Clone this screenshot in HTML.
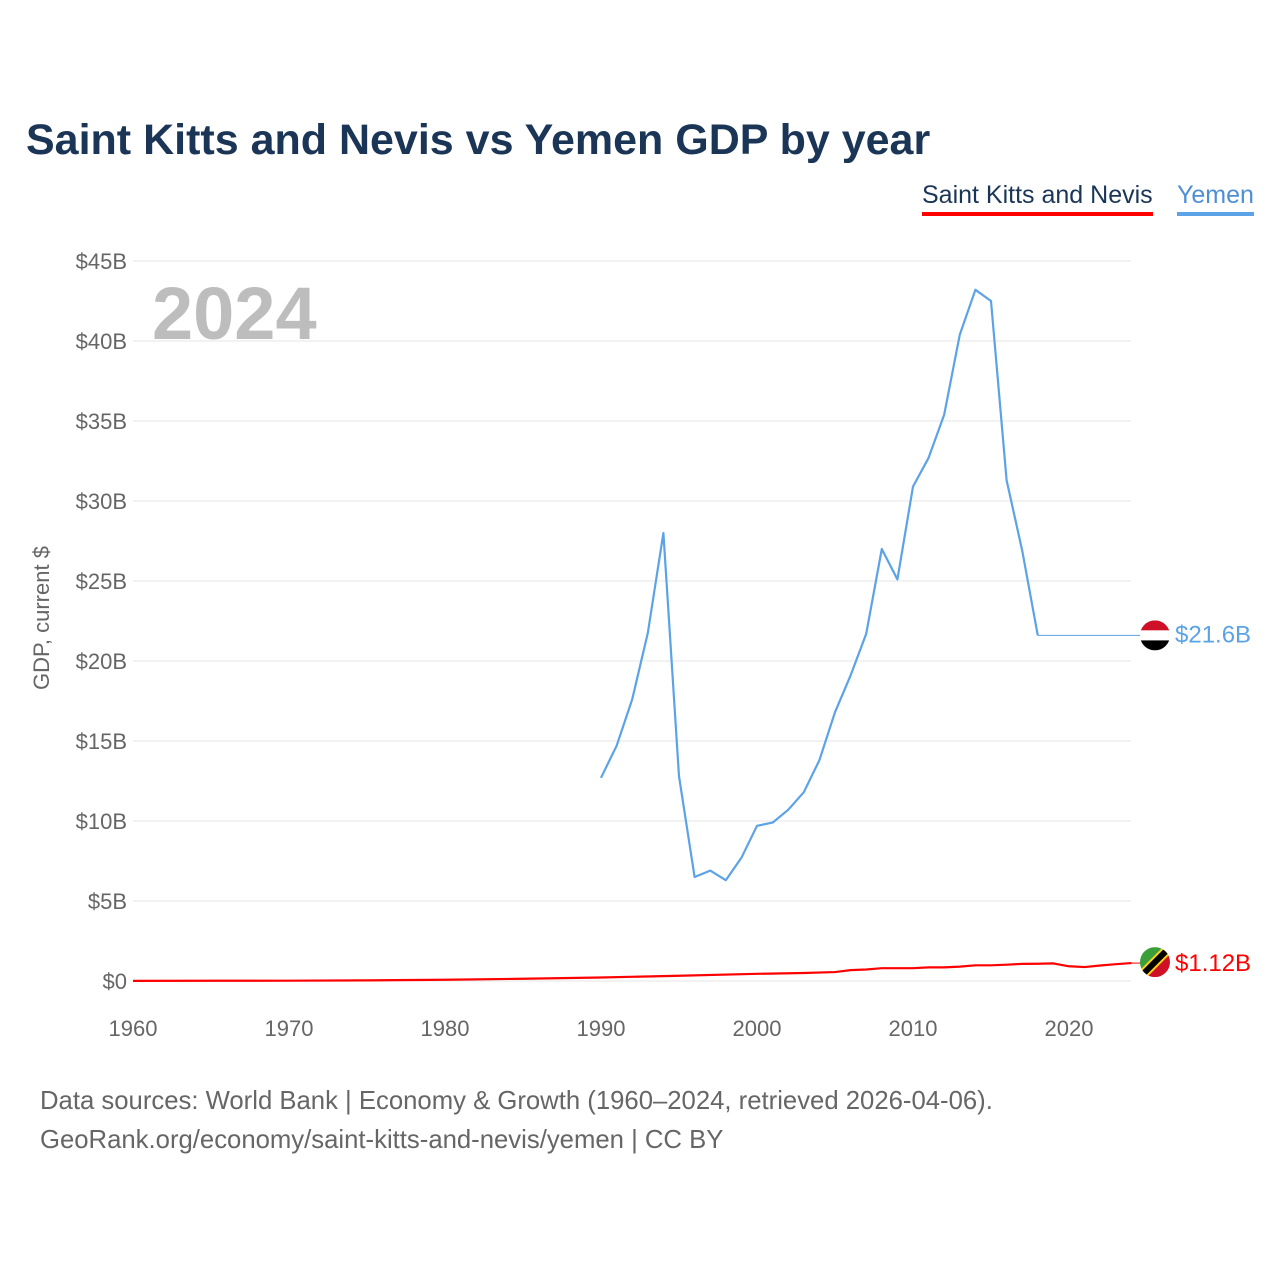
<!DOCTYPE html>
<html><head><meta charset="utf-8">
<style>
body{margin:0;background:#fff;font-family:"Liberation Sans",sans-serif;}
#wrap{position:relative;width:1280px;height:1280px;overflow:hidden;}
.t{position:absolute;white-space:nowrap;}
</style></head>
<body>
<div id="wrap">
<div class="t" style="left:26px;top:116px;font-size:43px;font-weight:bold;color:#1b3556;">Saint Kitts and Nevis vs Yemen GDP by year</div>
<div class="t" style="left:922px;top:181px;font-size:25px;color:#1b3556;border-bottom:4px solid #f00;padding-bottom:2px;">Saint Kitts and Nevis</div>
<div class="t" style="left:1177px;top:181px;font-size:25px;color:#4d8fd6;border-bottom:4px solid #5ba3e6;padding-bottom:2px;">Yemen</div>
<div class="t" style="left:42px;top:618px;font-size:22px;color:#666;transform:translate(-50%,-50%) rotate(-90deg);">GDP, current $</div>
<div class="t" style="left:40px;top:1082px;font-size:25.7px;color:#666;line-height:39px;">Data sources: World Bank | Economy &amp; Growth (1960–2024, retrieved 2026-04-06).<br>GeoRank.org/economy/saint-kitts-and-nevis/yemen | CC BY</div>
<svg id="chart" width="1280" height="1280" style="position:absolute;left:0;top:0;"></svg>
</div>
<script>
const yTicks=[0,5,10,15,20,25,30,35,40,45];
const xTicks=[1960,1970,1980,1990,2000,2010,2020];
const yemenYears=[1990,1991,1992,1993,1994,1995,1996,1997,1998,1999,2000,2001,2002,2003,2004,2005,2006,2007,2008,2009,2010,2011,2012,2013,2014,2015,2016,2017,2018];
const yemenVals=[12.7,14.7,17.6,21.75,28.0,12.8,6.5,6.9,6.3,7.7,9.7,9.9,10.7,11.8,13.8,16.8,19.1,21.7,27.0,25.1,30.9,32.7,35.4,40.4,43.2,42.5,31.3,26.9,21.6];
const sknYears=[1960,1965,1970,1975,1980,1985,1990,1995,2000,2003,2005,2006,2007,2008,2010,2011,2012,2013,2014,2015,2016,2017,2018,2019,2020,2021,2022,2023,2024];
const sknVals=[0.01,0.015,0.02,0.04,0.08,0.14,0.22,0.33,0.45,0.5,0.56,0.68,0.72,0.8,0.8,0.85,0.85,0.9,0.98,0.98,1.02,1.07,1.08,1.1,0.92,0.87,0.97,1.05,1.12];
const yemenLast=21.6, sknLast=1.12;
const X=y=>133+(y-1960)*15.6;
const Y=v=>981-v*16;
const svg=document.getElementById('chart');
const NS='http://www.w3.org/2000/svg';
function mk(tag,attrs,parent){const e=document.createElementNS(NS,tag);for(const k in attrs)e.setAttribute(k,attrs[k]);(parent||svg).appendChild(e);return e;}
yTicks.forEach(t=>{
  const l=mk('line',{x1:133,x2:1131,y1:Y(t),y2:Y(t),stroke:'#e6e6e6','stroke-width':1});
  
  
  const tx=mk('text',{x:127,y:Y(t)+8,'text-anchor':'end','font-size':22,fill:'#666','font-family':'Liberation Sans'});
  tx.textContent='$'+t+(t?'B':'');
  
  
});
xTicks.forEach(t=>{
  const tx=mk('text',{x:X(t),y:1036,'text-anchor':'middle','font-size':22,fill:'#666','font-family':'Liberation Sans'});
  tx.textContent=t;
  
  
});
const yr=mk('text',{x:152,y:339,'font-size':74,'font-weight':'bold',fill:'#bdbdbd','font-family':'Liberation Sans'});
yr.textContent='2024';


function pts(xs,vs){return xs.map((x,i)=>X(x)+','+Y(vs[i])).join(' ');}
const ye=mk('polyline',{points:pts(yemenYears,yemenVals),fill:'none',stroke:'#5ba3e6','stroke-width':2.2,'stroke-linejoin':'round'});


const yc=mk('line',{x1:X(yemenYears[yemenYears.length-1]),x2:1141,y1:Y(yemenLast),y2:Y(yemenLast),stroke:'#5ba3e6','stroke-width':1});


const sk=mk('polyline',{points:pts(sknYears,sknVals),fill:'none',stroke:'#f00','stroke-width':2.2,'stroke-linejoin':'round'});


const fy=Y(yemenLast), fx=1155;
const g1=mk('g',{});


const cp1=mk('clipPath',{id:'c1'},g1);mk('circle',{cx:fx,cy:fy,r:15},cp1);
mk('rect',{x:fx-15,y:fy-15,width:30,height:10,fill:'#ce1126','clip-path':'url(#c1)'},g1);
mk('rect',{x:fx-15,y:fy-5,width:30,height:10,fill:'#fff','clip-path':'url(#c1)'},g1);
mk('rect',{x:fx-15,y:fy+5,width:30,height:10,fill:'#000','clip-path':'url(#c1)'},g1);
const yl=mk('text',{x:1175,y:fy+7,'font-size':24,fill:'#5ba3e6','font-family':'Liberation Sans'});
yl.textContent='$21.6B';


const sy=Y(sknLast)-1;
mk('line',{x1:1131,x2:1141,y1:Y(sknLast),y2:Y(sknLast),stroke:'#f00','stroke-width':1});
const g2=mk('g',{});


const cp=mk('clipPath',{id:'c2'},g2);mk('circle',{cx:fx,cy:sy,r:15},cp);
mk('polygon',{points:`${fx-15},${sy-15} ${fx+15},${sy-15} ${fx-15},${sy+15}`,fill:'#3a9e3a','clip-path':'url(#c2)'},g2);
mk('polygon',{points:`${fx+15},${sy-15} ${fx+15},${sy+15} ${fx-15},${sy+15}`,fill:'#ce1126','clip-path':'url(#c2)'},g2);
mk('line',{x1:fx-15,y1:sy+15,x2:fx+15,y2:sy-15,stroke:'#fcd116','stroke-width':10,'clip-path':'url(#c2)'},g2);
mk('line',{x1:fx-15,y1:sy+15,x2:fx+15,y2:sy-15,stroke:'#000','stroke-width':6,'clip-path':'url(#c2)'},g2);
const sl=mk('text',{x:1175,y:sy+9,'font-size':24,fill:'#f00','font-family':'Liberation Sans'});
sl.textContent='$1.12B';


</script>
</body></html>
